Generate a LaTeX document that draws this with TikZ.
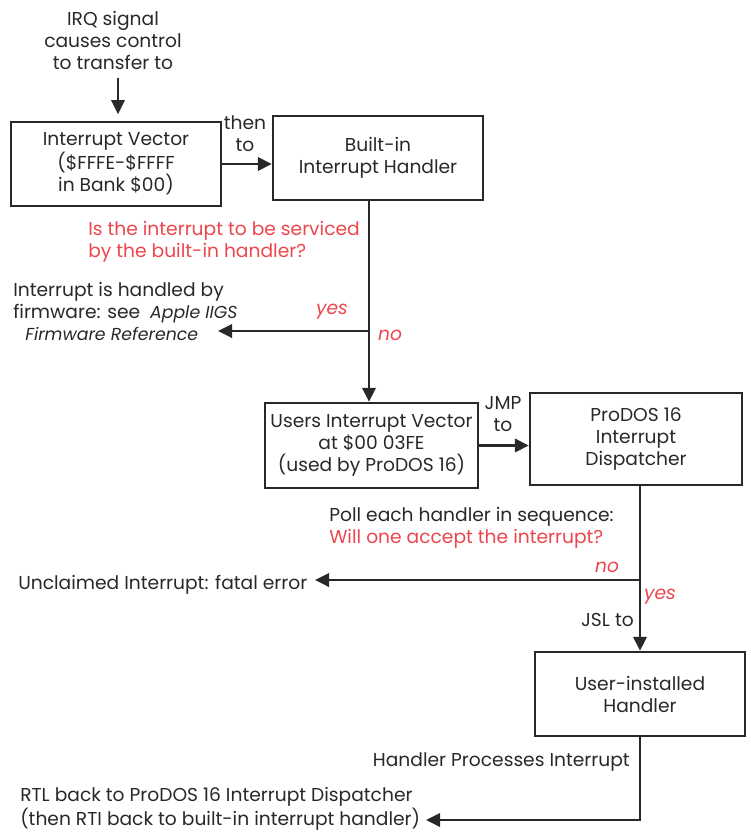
\documentclass[tikz,border=0pt]{standalone}
\usepackage{fontspec}
\setmainfont{Poppins}
\usetikzlibrary{arrows.meta}
\definecolor{ink}{RGB}{40,40,40}
\definecolor{qred}{RGB}{236,70,76}
\begin{document}
\begin{tikzpicture}[x=0.75pt,y=-0.75pt,
  every node/.style={text=ink,font=\fontsize{14}{16.5}\selectfont,inner sep=0pt},
  box/.style={draw=ink,line width=1.8pt,minimum width=157.5pt,minimum height=63pt,align=center},
  lbl/.style={align=center},
  lbll/.style={align=left},
  ans/.style={text=qred,font=\fontsize{14}{16.5}\selectfont\itshape},
  arr/.style={draw=ink,line width=1.8pt,-{Triangle[length=10.5pt,width=10pt]}},
  ln/.style={draw=ink,line width=1.8pt}]
\useasboundingbox (0,0) rectangle (750,834);
% boxes
\node[box] (b1) at (116,164) {Interrupt Vector\\(\$FFFE-\$FFFF\\in Bank \$00)};
\node[box] (b2) at (378,158) {Built-in\\Interrupt Handler};
\node[box,minimum width=159.75pt,minimum height=63.75pt] (b3) at (371.5,445.5) {Users Interrupt Vector\\at \$00 03FE\\(used by ProDOS 16)};
\node[box,minimum width=159pt,minimum height=69pt] (b4) at (636,439) {ProDOS 16\\Interrupt\\Dispatcher};
\node[box] (b5) at (640,694) {User-installed\\Handler};
% texts
\node[lbl] (irq) at (113,40) {IRQ signal\\causes control\\to transfer to};
\node[lbl] (then) at (245,134) {then\\to};
\node[lbll,anchor=west,text=qred] (q1) at (88,242) {Is the interrupt to be serviced\\by the built-in handler?};
\node[lbll,anchor=west] (fw) at (13,311) {Interrupt is handled by\\firmware: see \ {\fontsize{13}{16.5}\selectfont\itshape Apple IIGS}\\\hspace*{9pt}{\fontsize{13}{16.5}\selectfont\itshape Firmware Reference}};
\node[ans] (yes1) at (332,312) {yes};
\node[ans] (no1) at (390,335) {no};
\node[lbl] (jmp) at (503,414) {JMP\\to};
\node[lbll,anchor=west] (poll) at (329,528) {Poll each handler in sequence:\\\textcolor{qred}{Will one accept the interrupt?}};
\node[ans] (no2) at (607,567) {no};
\node[ans] (yes2) at (660,597) {yes};
\node[anchor=east] (jsl) at (634,620) {JSL to};
\node[anchor=west] (unc) at (18,585) {Unclaimed Interrupt: fatal error};
\node[anchor=east] (hp) at (630,762) {Handler Processes Interrupt};
\node[lbll,anchor=west] (rtl) at (20,809) {RTL back to ProDOS 16 Interrupt Dispatcher\\(then RTI back to built-in interrupt handler)};
% junctions and free ends
\coordinate (irqx) at (118,78);
\coordinate (j1) at (369,331);
\coordinate (fwtip) at (218,331);
\coordinate (j2) at (640,580);
\coordinate (errtip) at (315,580);
\coordinate (rtltip) at (426,820);
% connectors
\draw[arr,shorten >=5pt] (irqx) -- (irqx |- b1.north);
\draw[arr] (b1.east) -- (b1.east -| b2.west);
\draw[ln] (b2.south -| j1) -- (j1);
\draw[arr] (j1) -- (j1 |- b3.north);
\draw[arr] (j1) -- (fwtip);
\draw[arr] (b3.east) -- (b3.east -| b4.west);
\draw[ln] (b4.south -| j2) -- (j2);
\draw[arr] (j2) -- (j2 |- b5.north);
\draw[arr] (j2) -- (errtip);
\draw[arr] (b5.south -| j2) |- (rtltip);
\end{tikzpicture}
\end{document}
